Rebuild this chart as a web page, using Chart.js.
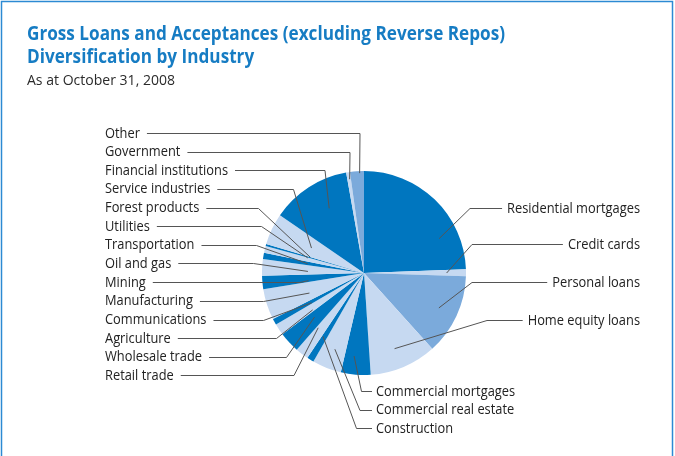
<!DOCTYPE html>
<html>
<head>
<meta charset="utf-8">
<script src="https://cdn.jsdelivr.net/npm/chart.js@4.4.0/dist/chart.umd.min.js"></script>
<style>
    html, body { margin: 0; padding: 0; background: #fff; }
    #wrap { position: relative; width: 675px; height: 456px; overflow: hidden; }
    canvas { display: block; }
</style>
</head>
<body>
<div id="wrap"><canvas id="industryPie" width="675" height="456"></canvas></div>
<script>
// Data (% of gross loans & acceptances), clockwise from 12 o'clock
const categories = [
    'Residential mortgages', 'Credit cards', 'Personal loans', 'Home equity loans',
    'Commercial mortgages', 'Commercial real estate', 'Construction', 'Retail trade',
    'Wholesale trade', 'Agriculture', 'Communications', 'Manufacturing', 'Mining',
    'Oil and gas', 'Transportation', 'Utilities', 'Forest products', 'Service industries',
    'Financial institutions', 'Government', 'Other'
];
const shares = [
    24.4, 1.1, 12.8, 10.6,
    4.7, 4.6, 1.1, 2.1,
    3.3, 1.8, 1.0, 4.9, 2.1,
    2.6, 1.0, 1.1, 0.3, 5.0,
    12.6, 0.6, 2.2
];
const shades = [
    'dark', 'light', 'medium', 'light',
    'dark', 'light', 'dark', 'light',
    'dark', 'light', 'dark', 'light', 'dark',
    'light', 'dark', 'light', 'dark', 'light',
    'dark', 'light', 'medium'
];

const titleLines = ['Gross Loans and Acceptances (excluding Reverse Repos)', 'Diversification by Industry'];
const subtitle = 'As at October 31, 2008';

const palette = { dark: '#0076bf', medium: '#7baadb', light: '#c6d9f1' };

// Label placement: side, text y, anchor (angle clockwise from north, fraction of radius), elbow x
const labelLayout = [
    ['right', 208, 65.4, 0.81, 470],
    ['right', 244, 90, 0.81, 472],
    ['right', 282, 115, 0.81, 472],
    ['right', 320, 158, 0.80, 487],
    ['bottom', 391, 186.8, 0.82, 361.5],
    ['bottom', 409.5, 200.9, 0.80, 360],
    ['bottom', 428, 212.9, 0.74, 356.5],
    ['left', 375, 219.9, 0.70, 294],
    ['left', 356.5, 228.3, 0.65, 286.5],
    ['left', 338, 234.3, 0.62, 276.5],
    ['left', 319.5, 240.3, 0.59, 263.5],
    ['left', 300.5, 249.8, 0.57, 263.5],
    ['left', 282, 262.2, 0.55, 300],
    ['left', 263, 271.6, 0.55, 253.5],
    ['left', 244.5, 279.4, 0.56, 256.5],
    ['left', 226, 285, 0.57, 261.5],
    ['left', 207.5, 286.4, 0.55, 258.5],
    ['left', 188.5, 295.4, 0.57, 293.5],
    ['left', 170, 331.7, 0.72, 325],
    ['left', 151.5, 351.3, 0.93, 350],
    ['left', 133, 357.5, 0.98, 360]
];

const FONT = '"Open Sans", "Noto Sans", sans-serif';

function squeeze(ctx, font, sample, target) {
    ctx.font = font;
    return target / ctx.measureText(sample).width;
}

function drawText(ctx, text, x, y, align, sx) {
    ctx.save();
    ctx.translate(x, y);
    ctx.scale(sx, 1);
    ctx.textAlign = align;
    ctx.fillText(text, 0, 0);
    ctx.restore();
    return ctx.measureText(text).width * sx;
}

const annotationPlugin = {
    id: 'annotations',
    beforeDraw(chart) {
        const ctx = chart.ctx;
        ctx.save();
        // frame
        ctx.strokeStyle = '#2c8ad3';
        ctx.lineWidth = 1.5;
        ctx.beginPath();
        ctx.moveTo(1.5, 470);
        ctx.lineTo(1.5, 1.5);
        ctx.lineTo(672.5, 1.5);
        ctx.lineTo(672.5, 470);
        ctx.stroke();

        // titles
        ctx.textBaseline = 'alphabetic';
        ctx.fillStyle = '#167cc3';
        const tFont = 'bold 19.5px ' + FONT;
        const tsx = squeeze(ctx, tFont, titleLines[0], 478);
        ctx.font = tFont;
        drawText(ctx, titleLines[0], 27, 39.5, 'left', tsx);
        drawText(ctx, titleLines[1], 27, 63, 'left', tsx);

        ctx.fillStyle = '#2b2b2b';
        const sFont = '15px ' + FONT;
        const ssx = squeeze(ctx, sFont, subtitle, 148);
        ctx.font = sFont;
        drawText(ctx, subtitle, 27, 84.5, 'left', ssx);
        ctx.restore();
    },
    afterDraw(chart) {
        const ctx = chart.ctx;
        const arc = chart.getDatasetMeta(0).data[0];
        const cx = arc.x, cy = arc.y, R = arc.outerRadius;
        const lFont = '15px ' + FONT;
        const lsx = squeeze(ctx, lFont, 'Financial institutions', 123);

        ctx.save();
        ctx.font = lFont;
        ctx.textBaseline = 'middle';
        ctx.lineWidth = 1;
        categories.forEach((name, i) => {
            const [side, ty, angDeg, frac, ex] = labelLayout[i];
            const a = angDeg * Math.PI / 180;
            const ax = cx + frac * R * Math.sin(a);
            const ay = cy - frac * R * Math.cos(a);
            const ly = Math.round(ty) + 0.5;

            ctx.fillStyle = '#222';
            let tx, edge;
            if (side === 'left') {
                tx = 105;
                const w = drawText(ctx, name, tx, ty + 0.5, 'left', lsx);
                edge = tx + w + 7;
            } else if (side === 'right') {
                tx = 640;
                const w = drawText(ctx, name, tx, ty + 0.5, 'right', lsx);
                edge = tx - w - 5;
            } else {
                tx = 376;
                drawText(ctx, name, tx, ty + 0.5, 'left', lsx);
                edge = tx - 4;
            }

            ctx.strokeStyle = '#555';
            ctx.beginPath();
            ctx.moveTo(edge, ly);
            ctx.lineTo(ex, ly);
            ctx.lineTo(ax, ay);
            ctx.stroke();
        });
        ctx.restore();
    }
};

const ctx = document.getElementById('industryPie');
new Chart(ctx, {
    type: 'pie',
    data: {
        labels: categories,
        datasets: [{
            data: shares,
            backgroundColor: shades.map(s => palette[s]),
            borderWidth: 0,
            hoverOffset: 0
        }]
    },
    options: {
        responsive: false,
        animation: false,
        events: [],
        layout: { padding: { left: 262, right: 209, top: 171, bottom: 81 } },
        plugins: {
            legend: { display: false },
            tooltip: { enabled: false }
        }
    },
    plugins: [annotationPlugin]
});
</script>
</body>
</html>
